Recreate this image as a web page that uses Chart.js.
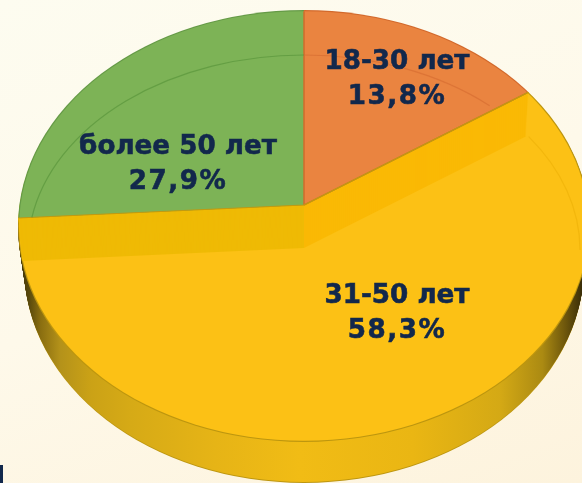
<!DOCTYPE html>
<html>
<head>
<meta charset="utf-8">
<style>
  html, body { margin: 0; padding: 0; width: 582px; height: 483px; overflow: hidden; }
  body { background: linear-gradient(160deg, #fdfcf0 0%, #fef9ea 50%, #fdf3dd 100%); position: relative; }
  canvas { display: block; }
  #edge { position: absolute; left: 0; top: 465px; width: 3px; height: 18px; background: #12284c; }
</style>
<script src="https://cdn.jsdelivr.net/npm/chart.js@4"></script>
</head>
<body>
<canvas id="pie" width="582" height="483"></canvas>
<div id="edge"></div>
<script>
// chart values
const ageGroups = ['18-30 лет', '31-50 лет', 'более 50 лет'];
const shares = [13.8, 58.3, 27.9];
const sliceColors = ['#ea8440', '#fcc115', '#7db356'];

// tilted look: one outline ellipse, pie tip sits above its centre
const tip = { x: 304, y: 205 };
const rim = { x: 304, y: 226, rx: 286, ry: 216 };
const tilt = { sx: 1.9, skew: 0.081, sy: 0.688 };
const wallDepth = 40;
const stepDepth = 43;

const labelSpots = [
    { x: 397, y: 62 },
    { x: 397, y: 296 },
    { x: 178, y: 147 }
];

function clipEllipse(ctx, x, y, rx, ry) {
    ctx.beginPath();
    ctx.ellipse(x, y, rx, ry, 0, 0, Math.PI * 2);
    ctx.clip();
}

// draw the arc element through the tilt, with its tip moved to (x, y)
function paintArc(ctx, arc, fill, border, x, y) {
    const saved = arc.options;
    arc.options = Object.assign({}, saved, {
        backgroundColor: fill,
        borderColor: border || fill,
        borderWidth: border ? 0.8 : 0
    });
    ctx.save();
    ctx.translate(x, y);
    ctx.transform(tilt.sx, tilt.skew * tilt.sx, 0, tilt.sy * tilt.sx, 0, 0);
    ctx.translate(-arc.x, -arc.y);
    arc.draw(ctx);
    ctx.restore();
    arc.options = saved;
}

function drawStep(ctx, arc, color, shiftX) {
    for (let i = stepDepth; i >= 1; i--) {
        const dx = shiftX * i / stepDepth;
        ctx.save();
        clipEllipse(ctx, rim.x, rim.y, rim.rx, rim.ry);
        clipEllipse(ctx, rim.x + dx, rim.y + i, rim.rx, rim.ry);
        paintArc(ctx, arc, color, null, tip.x, tip.y + i);
        ctx.restore();
    }
}

function drawFace(ctx, arc, fill, rimColor, border) {
    ctx.save();
    clipEllipse(ctx, rim.x, rim.y, rim.rx, rim.ry);
    paintArc(ctx, arc, rimColor, null, tip.x, tip.y);
    clipEllipse(ctx, rim.x, rim.y, rim.rx - 1.2, rim.ry - 1.2);
    paintArc(ctx, arc, fill, border, tip.x, tip.y);
    ctx.restore();
}

const tiltedPie = {
    id: 'tiltedPie',
    beforeDatasetsDraw(chart) {
        const ctx = chart.ctx;
        const [orange, yellow, green] = chart.getDatasetMeta(0).data;

        // outer wall under the big slice, gradient is filled inside the tilt so undo its x scale
        const localX = px => yellow.x + (px - tip.x) / tilt.sx;
        const wall = ctx.createLinearGradient(localX(18), 0, localX(582), 0);
        wall.addColorStop(0, '#3a2e08');
        wall.addColorStop(0.02, '#5a4a0c');
        wall.addColorStop(0.04, '#8a6e10');
        wall.addColorStop(0.075, '#b4921a');
        wall.addColorStop(0.13, '#cba216');
        wall.addColorStop(0.2, '#d6aa16');
        wall.addColorStop(0.35, '#e6b416');
        wall.addColorStop(0.5, '#f1bc15');
        wall.addColorStop(0.7, '#eab613');
        wall.addColorStop(0.855, '#d4a915');
        wall.addColorStop(0.93, '#ab8a12');
        wall.addColorStop(0.97, '#6e570c');
        wall.addColorStop(1, '#3a2e08');
        for (let i = wallDepth + 1; i >= 1; i--) {
            ctx.save();
            clipEllipse(ctx, rim.x, rim.y + i, rim.rx - 6 * i / wallDepth, rim.ry);
            paintArc(ctx, yellow, i > wallDepth ? '#bd960f' : wall, null, tip.x, tip.y + i);
            ctx.restore();
        }

        // top of the big slice
        drawFace(ctx, yellow, sliceColors[1], '#bd960f', null);

        // the two raised slices with the step under them
        drawStep(ctx, green, '#efba05', 4);
        drawStep(ctx, orange, '#fab905', -4);
        drawFace(ctx, green, sliceColors[2], '#659a47', null);
        drawFace(ctx, orange, sliceColors[0], '#d2692c', '#cf6d2c');

        // gold edge along the raised slices
        ctx.save();
        clipEllipse(ctx, rim.x, rim.y, rim.rx, rim.ry);
        paintArc(ctx, yellow, 'rgba(0,0,0,0)', '#c29a10', tip.x, tip.y);
        ctx.restore();

        // faint inner ring
        ctx.lineWidth = 1.2;
        ctx.strokeStyle = 'rgba(90,150,60,0.7)';
        ctx.beginPath();
        ctx.ellipse(304, 250, 276, 195, 0, 3.31, Math.PI * 1.5);
        ctx.stroke();
        ctx.strokeStyle = 'rgba(215,110,50,0.7)';
        ctx.beginPath();
        ctx.ellipse(304, 250, 276, 195, 0, Math.PI * 1.5, 5.45);
        ctx.stroke();
        ctx.strokeStyle = 'rgba(240,180,10,0.8)';
        ctx.beginPath();
        ctx.ellipse(304, 250, 276, 195, 0, -0.62, 0);
        ctx.stroke();

        // labels
        ctx.font = 'bold 26.2px "DejaVu Sans"';
        ctx.fillStyle = '#12284c';
        ctx.strokeStyle = '#12284c';
        ctx.lineWidth = 0.6;
        ctx.textAlign = 'center';
        ctx.textBaseline = 'middle';
        ageGroups.forEach((name, i) => {
            const spot = labelSpots[i];
            const pct = shares[i].toFixed(1).replace('.', ',') + '%';
            ctx.letterSpacing = '0px';
            ctx.fillText(name, spot.x, spot.y);
            ctx.strokeText(name, spot.x, spot.y);
            ctx.letterSpacing = '1.5px';
            ctx.fillText(pct, spot.x, spot.y + 35);
            ctx.strokeText(pct, spot.x, spot.y + 35);
        });
        return false;
    }
};

new Chart(document.getElementById('pie'), {
    type: 'pie',
    data: {
        labels: ageGroups,
        datasets: [{ data: shares, backgroundColor: sliceColors, borderWidth: 0 }]
    },
    options: {
        responsive: false,
        animation: false,
        plugins: { legend: { display: false }, tooltip: { enabled: false } }
    },
    plugins: [tiltedPie]
});
</script>
</body>
</html>
